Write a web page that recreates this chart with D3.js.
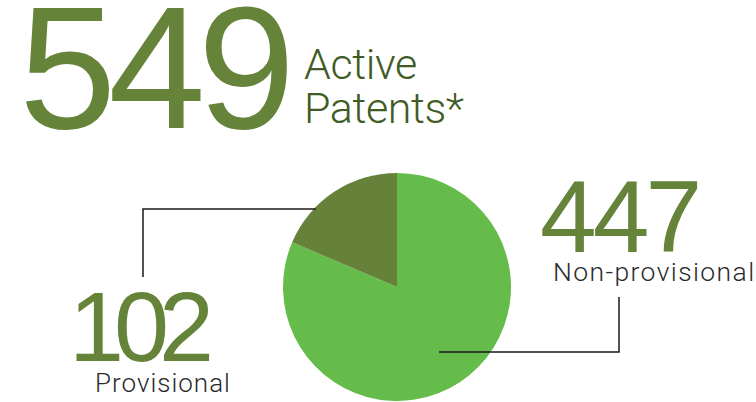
<!DOCTYPE html>
<html><head><meta charset="utf-8">
<script src="https://cdn.jsdelivr.net/npm/d3@7"></script>
<style>body{margin:0;background:#fff}svg{display:block}</style>
</head><body>
<svg id="c" width="756" height="402"></svg>
<script>
const total = 549;
const totalLabel = ["Active", "Patents*"];
const categories = ["Non-provisional", "Provisional"];
const values = [447, 102];
const colors = ["#66bc4a", "#66813a"];

const svg = d3.select("#c");
const font = "'Liberation Sans', Arial, Helvetica, sans-serif";
const light = "Roboto, 'Liberation Sans', Arial, sans-serif";
const green = "#66833a";

// Headline
svg.append("text").attr("x", 19).attr("y", 128)
  .attr("font-family", font).attr("font-size", 175).attr("letter-spacing", -8)
  .attr("fill", green).text(total);
const lbl = svg.append("text").attr("font-family", light).attr("font-weight", 300)
  .attr("font-size", 43).attr("letter-spacing", -0.4).attr("fill", "#3f5c24");
totalLabel.forEach((t, i) => lbl.append("tspan").attr("x", 304).attr("y", 79 + i * 44).text(t));

// Pie
const cx = 397, cy = 287, r = 114;
const pie = d3.pie().sort(null).startAngle(0).endAngle(2 * Math.PI);
const arcs = pie(values);
const arc = d3.arc().innerRadius(0).outerRadius(r);
const g = svg.append("g").attr("transform", `translate(${cx},${cy})`);
g.selectAll("path").data(arcs).join("path")
  .attr("d", arc).attr("fill", (d, i) => colors[i]);

// Leader lines
const lineC = "#1a1a1a";
const py = -78;
const px = -Math.sqrt(r * r - py * py);
g.append("path").attr("fill", "none").attr("stroke", lineC).attr("stroke-width", 1.5)
  .attr("d", `M${px + 2},${py} H${143 - cx} V${277 - cy}`);
g.append("path").attr("fill", "none").attr("stroke", lineC).attr("stroke-width", 1.5)
  .attr("d", `M42,65 H${619 - cx} V${297 - cy}`);

// Labels
svg.append("text").attr("x", 540).attr("y", 252)
  .attr("font-family", font).attr("font-size", 102).attr("letter-spacing", -4)
  .attr("fill", green).text(values[0]);
svg.append("text").attr("x", 553).attr("y", 281)
  .attr("font-family", light).attr("font-weight", 300).attr("font-size", 26.5).attr("letter-spacing", 1.4)
  .attr("fill", "#2b2b2b").text(categories[0]);

svg.append("text").attr("x", 69).attr("y", 361)
  .attr("font-family", font).attr("font-size", 99).attr("letter-spacing", -10)
  .attr("fill", green).text(values[1]);
svg.append("text").attr("x", 95).attr("y", 392)
  .attr("font-family", light).attr("font-weight", 300).attr("font-size", 26).attr("letter-spacing", 1)
  .attr("fill", "#2b2b2b").text(categories[1]);
</script>
</body></html>
